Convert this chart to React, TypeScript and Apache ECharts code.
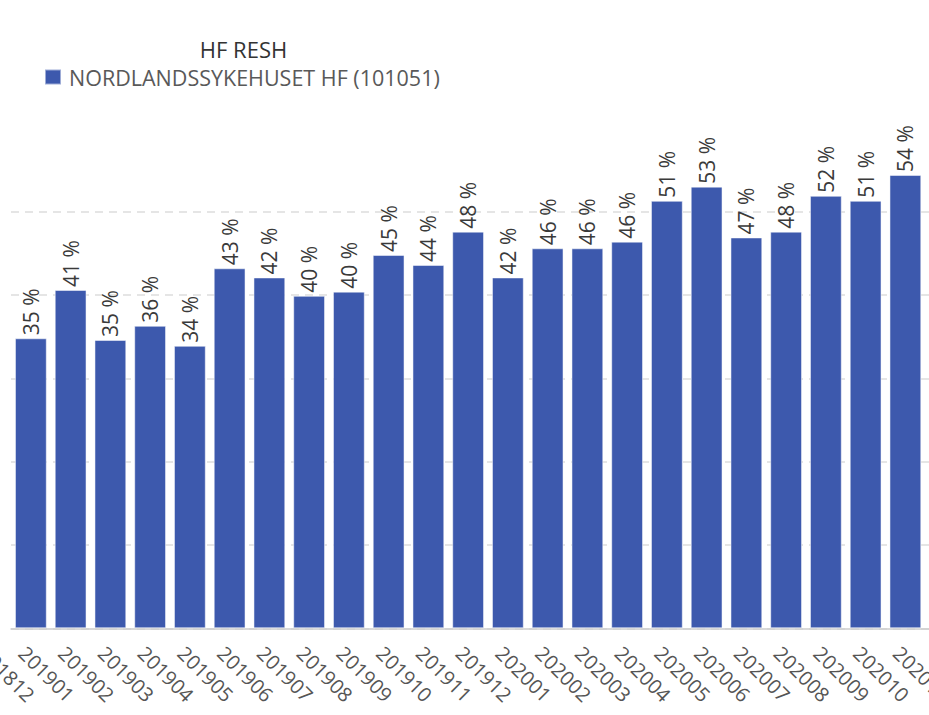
import React, { useEffect, useRef } from "react";
import * as echarts from "echarts";

const legendTitle = "HF RESH";
const seriesName = "NORDLANDSSYKEHUSET HF (101051)";
const previousCategory = "201812";
const categories = [
  "201901", "201902", "201903", "201904", "201905", "201906", "201907", "201908",
  "201909", "201910", "201911", "201912", "202001", "202002", "202003", "202004",
  "202005", "202006", "202007", "202008", "202009", "202010", "202011",
];
const values = [
  34.8, 40.6, 34.6, 36.3, 33.9, 43.2, 42.1, 39.9, 40.4, 44.8, 43.6, 47.6,
  42.1, 45.6, 45.6, 46.4, 51.3, 53.0, 46.9, 47.6, 51.9, 51.3, 54.4,
];
const yTicks = { min: 0, max: 60, interval: 10 };

const FONT = "'Open Sans', 'Noto Sans', sans-serif";
const BAR_COLOR = "#3d59ad";
const LABEL_MARGIN = 13;
const AXIS_FONT = 20;
const AXIS_LINE_H = 24;

export default function App() {
  const ref = useRef<HTMLDivElement>(null);
  useEffect(() => {
    if (!ref.current) return;
    const chart = echarts.init(ref.current, null, { renderer: "svg" });
    chart.setOption({
      animation: false,
      backgroundColor: "#ffffff",
      textStyle: { fontFamily: FONT },
      legend: {
        left: 39,
        top: 61,
        icon: "rect",
        itemWidth: 16,
        itemHeight: 15,
        itemGap: 10,
        data: [seriesName],
        textStyle: {
          fontFamily: FONT,
          fontSize: 21.5,
          color: "#595959",
          lineHeight: 20,
          padding: [0, 0, 0, 3],
        },
        selectedMode: false,
      },
      grid: {
        left: 11,
        top: 128.3,
        height: 500,
        width: 954,
        containLabel: false,
        outerBoundsMode: "none",
      },
      xAxis: {
        type: "category",
        data: categories,
        max: categories.length,
        boundaryGap: true,
        axisLine: { lineStyle: { color: "#cccccc", width: 1.5 } },
        axisTick: { alignWithLabel: true, length: 8, lineStyle: { color: "#cccccc", width: 1.5 } },
        axisLabel: {
          interval: 0,
          rotate: -45,
          margin: LABEL_MARGIN,
          verticalAlign: "top",
          lineHeight: AXIS_LINE_H,
          fontSize: AXIS_FONT,
          fontFamily: FONT,
          color: "#555555",
          formatter: (v: any) => (v == null ? "" : String(v)),
        },
      },
      yAxis: {
        type: "value",
        min: yTicks.min,
        max: yTicks.max,
        interval: yTicks.interval,
        axisLabel: { show: false },
        axisLine: { show: false },
        axisTick: { show: false },
        splitLine: {
          show: true,
          showMaxLine: false,
          lineStyle: { color: "#dddddd", width: 1.5, type: [8, 6] },
        },
      },
      series: [
        {
          type: "bar",
          name: seriesName,
          data: values,
          barCategoryGap: "20%",
          itemStyle: { color: BAR_COLOR, borderColor: "rgba(255,255,255,0.5)", borderWidth: 1 },
          label: {
            show: true,
            position: "top",
            rotate: 90,
            align: "left",
            verticalAlign: "middle",
            distance: 3,
            fontSize: 21,
            fontFamily: FONT,
            color: "#3a3a3a",
            formatter: (p: any) => `${Math.round(p.value)} %`,
          },
        },
      ],
    });

    const x0 = chart.convertToPixel({ xAxisIndex: 0 }, 0) as number;
    const x1 = chart.convertToPixel({ xAxisIndex: 0 }, 1) as number;
    const yBase = chart.convertToPixel({ yAxisIndex: 0 }, 0) as number;
    const legendX = 44 + (443 - 44) / 2;
    chart.setOption({
      graphic: [
        {
          type: "text",
          x: legendX,
          y: 49,
          style: {
            text: legendTitle,
            fontFamily: FONT,
            fontSize: 22,
            lineHeight: 22,
            fontWeight: "normal",
            fill: "#333333",
            align: "center",
            verticalAlign: "middle",
          },
        },
        {
          type: "text",
          x: x0 - (x1 - x0),
          y: yBase + LABEL_MARGIN,
          rotation: -Math.PI / 4,
          style: {
            text: previousCategory,
            fontFamily: FONT,
            fontSize: AXIS_FONT,
            lineHeight: AXIS_LINE_H,
            fill: "#555555",
            align: "left",
            verticalAlign: "top",
          },
        },
      ],
    });
    return () => chart.dispose();
  }, []);
  return (
    <div
      ref={ref}
      style={{ position: "fixed", left: 0, top: 0, width: 929, height: 715, overflow: "hidden" }}
    />
  );
}
